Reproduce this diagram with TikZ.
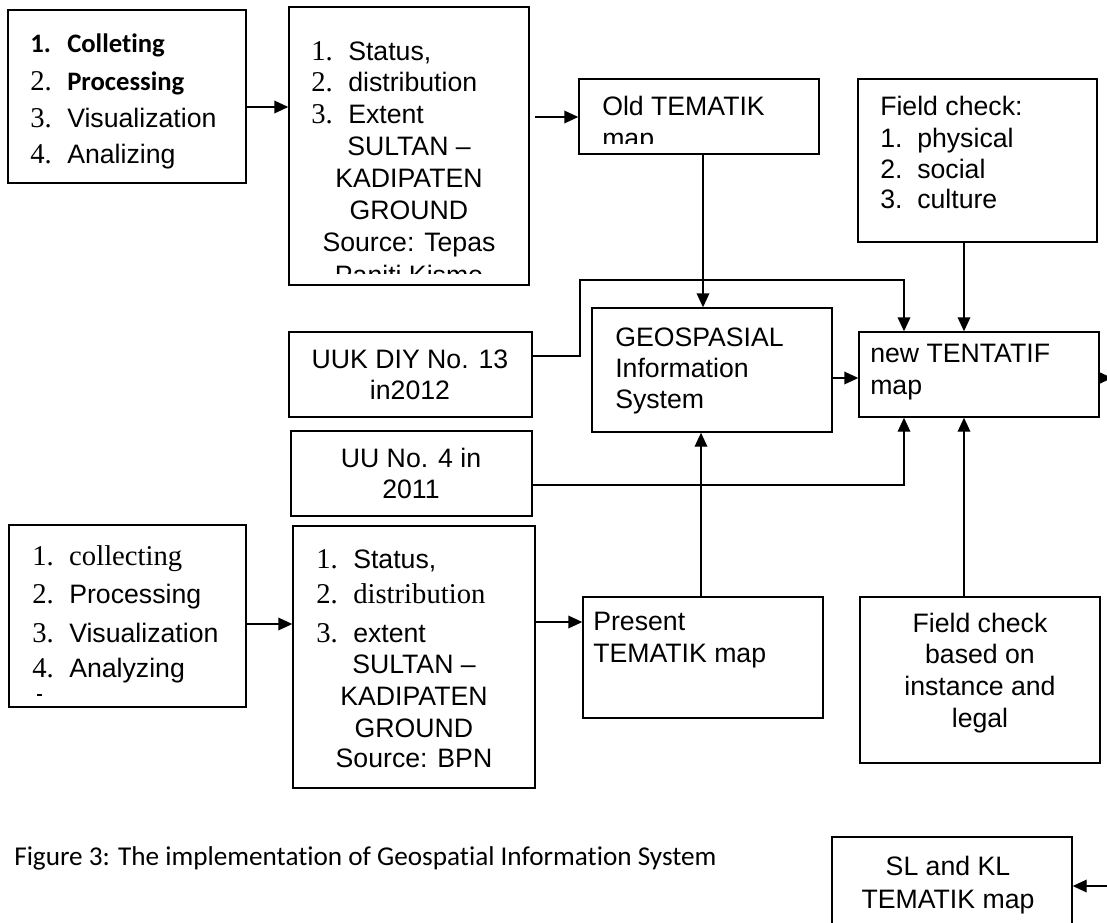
\documentclass[tikz,border=0pt]{standalone}
\usepackage{fontspec}
\setmainfont{Liberation Sans}
\newfontfamily\timesfont{Liberation Serif}
\newfontfamily\califont[Ligatures=NoCommon]{Carlito}
\usetikzlibrary{arrows.meta, positioning, fit}

\newcommand{\tms}{\timesfont\fontsize{21.5}{26}\selectfont}
\newcommand{\calbf}{\califont\bfseries\fontsize{20}{24}\selectfont}
\newcommand{\nr}[1]{\makebox[27.75pt][l]{#1}}

\tikzset{
  box/.style={draw, line width=1.1pt, inner sep=0pt},
  txtline/.style={inner sep=0pt, anchor=base west, font=\fontsize{20}{24}\selectfont},
  ctxt/.style={txtline, anchor=base},
  arr/.style={line width=1.1pt, -{Triangle[length=10.5pt,width=9.5pt]}}
}

\begin{document}
\begin{tikzpicture}[x=0.75pt, y=-0.75pt]
  \useasboundingbox (0,0) rectangle (1107,922);

  % --- upper row: data from Tepas Paniti Kismo ---
  \node[box, fit={(8,10) (246,183)}] (colA) {};
  \foreach \y/\nm/\tx [count=\i] in {52/{\calbf 1.}/{\calbf Colleting},
      90/{\tms 2.}/{\calbf Processing}, 127/{\tms 3.}/Visualization, 163/{\tms 4.}/Analizing}
    \node[txtline] (colA\i) at (30,\y) {\nr{\nm}\tx};

  \node[box, fit={(289,7) (529,285)}] (statA) {};
  \foreach \y/\nm/\tx [count=\i] in {60/1./{Status,}, 91/2./distribution, 123/3./Extent}
    \node[txtline] (statA\i) at (311,\y) {\nr{\tms\nm}\tx};
  \begin{scope}
    % last line is cut by the frame
    \clip (289,7) rectangle (529,273);
    \foreach \y/\tx [count=\i] in {155/SULTAN –, 187/KADIPATEN, 219/GROUND, 251/Source: Tepas, 284/Paniti Kismo}
      \node[ctxt] (statAc\i) at (409,\y) {\tx};
  \end{scope}

  \node[box, fit={(579,79) (819,154)}] (old) {};
  \node[txtline] (old1) at (602,115) {Old TEMATIK};
  \begin{scope}
    \clip (579,79) rectangle (819,143);
    \node[txtline] (old2) at (602,147) {map};
  \end{scope}

  \node[box, fit={(858,79) (1097,242)}] (fieldA) {};
  \node[txtline] (fieldA0) at (880,115) {Field check:};
  \foreach \y/\nm/\tx [count=\i] in {147/1./physical, 178/2./social, 208/3./culture}
    \node[txtline] (fieldA\i) at (880,\y) {\nr{\nm}\tx};

  % --- middle: law, GIS and new map ---
  \node[box, fit={(289,332) (532,417)}] (uuk) {};
  \node[ctxt] (uuk1) at (410,368) {UUK DIY No. 13};
  \node[ctxt] (uuk2) at (410,399) {in2012};

  \node[box, fit={(291,431) (532,516)}] (uu) {};
  \node[ctxt] (uu1) at (411,467) {UU No. 4 in};
  \node[ctxt] (uu2) at (411,498) {2011};

  \node[box, fit={(592,308) (832,432)}] (geo) {};
  \foreach \y/\tx [count=\i] in {346/GEOSPASIAL, 377/Information, 408/System}
    \node[txtline] (geo\i) at (615,\y) {\tx};

  \node[box, fit={(859,332) (1099,417)}] (tent) {};
  \node[txtline] (tent1) at (870,362) {new TENTATIF};
  \node[txtline] (tent2) at (870,394) {map};

  % --- lower row: data from BPN ---
  \node[box, fit={(9,525) (246,707)}] (colB) {};
  \foreach \y/\nm/\tx [count=\i] in {565/1./{\tms collecting}, 603/2./Processing, 642/3./Visualization, 677/4./Analyzing}
    \node[txtline] (colB\i) at (32,\y) {\nr{\tms\nm}\tx};
  \draw[line width=0.8pt] (37,695) -- (42,695);

  \node[box, fit={(293,526) (535,788)}] (statB) {};
  \foreach \y/\nm/\tx [count=\i] in {568/1./{Status,}, 603/2./{\tms distribution}, 642/3./extent}
    \node[txtline] (statB\i) at (316,\y) {\nr{\tms\nm}\tx};
  \foreach \y/\tx [count=\i] in {673/SULTAN –, 705/KADIPATEN, 737/GROUND, 767/Source: BPN}
    \node[ctxt] (statBc\i) at (414,\y) {\tx};

  \node[box, fit={(583,597) (823,718)}] (present) {};
  \node[txtline] (present1) at (593,630) {Present};
  \node[txtline] (present2) at (593,662) {TEMATIK map};

  \node[box, fit={(860,597) (1100,763)}] (fieldB) {};
  \foreach \y/\tx [count=\i] in {632/Field check, 663/based on, 695/instance and, 727/legal}
    \node[ctxt] (fieldB\i) at (980,\y) {\tx};

  \node[box, fit={(832,837) (1072,940)}] (sl) {};
  \node[ctxt] (sl1) at (948,875) {SL and KL};
  \node[ctxt] (sl2) at (948,908) {TEMATIK map};

  \node[inner sep=0pt, anchor=base west, font=\califont\fontsize{20.4}{24}\selectfont] (caption) at (14,865)
    {Figure 3: The implementation of Geospatial Information System};

  % --- connectors ---
  \coordinate (tentout) at (1112,378);
  \coordinate (slin) at (1110,886);
  \draw[arr] (colA.east |- 0,107) -- (statA.west |- 0,107);
  \draw[arr, shorten <=4pt] (statA.east |- 0,117) -- (old.west |- 0,117);
  \draw[arr] (old.south -| 703,0) -- (geo.north -| 703,0);
  \draw[arr] (fieldA.south -| 964,0) -- (tent.north -| 964,0);
  \draw[arr] (uuk.east |- 0,356) -| (580,280) -| (tent.north -| 904,0);
  \draw[arr] (geo.east |- 0,378) -- (tent.west |- 0,378);
  \draw[arr] (tent.east |- 0,378) -- (tentout);
  \draw[arr] (uu.east |- 0,485) -| (tent.south -| 904,0);
  \draw[arr] (present.north -| 701,0) -- (geo.south -| 701,0);
  \draw[arr] (fieldB.north -| 964,0) -- (tent.south -| 964,0);
  \draw[arr] (colB.east |- 0,624) -- (statB.west |- 0,624);
  \draw[arr] (statB.east |- 0,622) -- (present.west |- 0,622);
  \draw[arr] (slin) -- (sl.east |- slin);
\end{tikzpicture}
\end{document}
